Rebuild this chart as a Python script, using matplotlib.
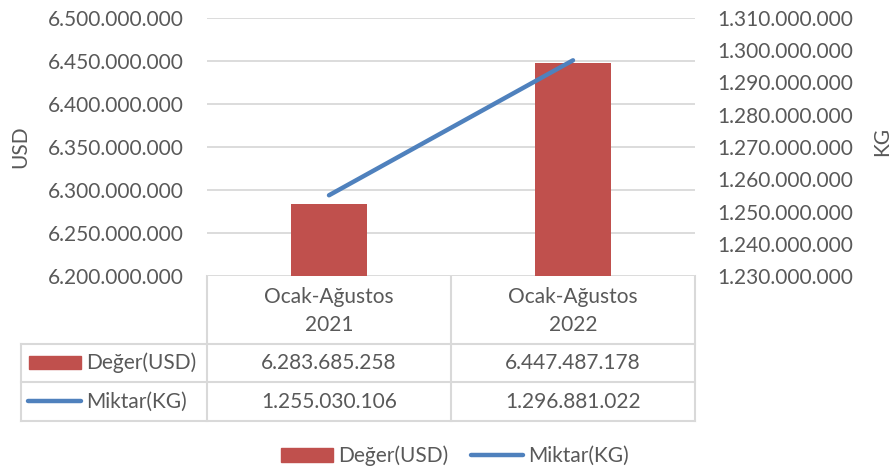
import numpy as np
import matplotlib
matplotlib.use('Agg')
import matplotlib.pyplot as plt
from matplotlib.lines import Line2D
from matplotlib.patches import Patch, Rectangle
from matplotlib.ticker import FuncFormatter

plt.rcParams['font.family'] = ['Lato', 'DejaVu Sans']

categories = ['Ocak-Ağustos\n2021', 'Ocak-Ağustos\n2022']
deger_usd = [6283685258, 6447487178]
miktar_kg = [1255030106, 1296881022]
series_names = ['Değer(USD)', 'Miktar(KG)']

RED = '#C0504D'
BLUE = '#4F81BD'
GREY = '#595959'
GRID = '#D9D9D9'
FS = 15


def dotted(v, pos=None):
    return f'{v:,.0f}'.replace(',', '.')


W, H = 893, 471
fig = plt.figure(figsize=(W / 100, H / 100), dpi=100)

# plot area in pixels
x0, x1, y_top, y_bot = 207, 695, 18, 276
ax = fig.add_axes([x0 / W, 1 - y_bot / H, (x1 - x0) / W, (y_bot - y_top) / H])
x = np.arange(len(categories))
ax.bar(x, deger_usd, width=0.31, color=RED, zorder=2)
ax.set_xlim(-0.5, 1.5)
ax.set_ylim(6.2e9, 6.5e9)
ax.set_yticks(np.arange(6.2e9, 6.5e9 + 1, 5e7))
ax.yaxis.set_major_formatter(FuncFormatter(dotted))
ax.grid(axis='y', color=GRID, lw=1.3)
ax.set_axisbelow(True)
ax.set_xticks([])
for s in ax.spines.values():
    s.set_visible(False)
ax.tick_params(axis='y', length=0, pad=17, labelsize=FS, labelcolor=GREY)
ax.set_ylabel('USD', fontsize=FS, color=GREY)
ax.yaxis.set_label_coords((30 - x0) / (x1 - x0), 0.5)

ax2 = ax.twinx()
ax2.plot(x, miktar_kg, color=BLUE, lw=3.2, solid_capstyle='round', zorder=3)
ax2.set_ylim(1.23e9, 1.31e9)
ax2.set_yticks(np.arange(1.23e9, 1.31e9 + 1, 1e7))
ax2.yaxis.set_major_formatter(FuncFormatter(dotted))
for s in ax2.spines.values():
    s.set_visible(False)
ax2.tick_params(axis='y', length=0, pad=16, labelsize=FS, labelcolor=GREY)
ax2.set_ylabel('KG', fontsize=FS, color=GREY)
ax2.yaxis.set_label_coords((872 - x0) / (x1 - x0), 0.52)

# data table below the plot
tb = fig.add_axes([0, 0, 1, 1], zorder=-1)
tb.set_xlim(0, W)
tb.set_ylim(H, 0)
tb.axis('off')
col_x = [x0, 451, x1]
row_y = [y_bot, 344, 382, 421]
for cx in col_x:
    tb.plot([cx, cx], [y_bot, row_y[-1]], color=GRID, lw=1.5)
tb.plot([21, 21], [row_y[1], row_y[-1]], color=GRID, lw=1.5)
for ry in row_y[1:]:
    tb.plot([21, x1], [ry, ry], color=GRID, lw=1.5)

centers = [(col_x[i] + col_x[i + 1]) / 2 for i in range(len(categories))]
for cx, cat, v1, v2 in zip(centers, categories, deger_usd, miktar_kg):
    tb.text(cx, (row_y[0] + row_y[1]) / 2 + 1, cat, ha='center', va='center',
            fontsize=FS, color=GREY, linespacing=1.45)
    tb.text(cx, (row_y[1] + row_y[2]) / 2, dotted(v1), ha='center', va='center',
            fontsize=FS, color=GREY)
    tb.text(cx, (row_y[2] + row_y[3]) / 2, dotted(v2), ha='center', va='center',
            fontsize=FS, color=GREY)

tb.add_patch(Rectangle((29, 356), 52, 13, color=RED))
tb.text(86, (row_y[1] + row_y[2]) / 2, series_names[0], ha='left', va='center',
        fontsize=FS, color=GREY)
tb.plot([28, 81], [401, 401], color=BLUE, lw=3.2, solid_capstyle='round')
tb.text(86, (row_y[2] + row_y[3]) / 2, series_names[1], ha='left', va='center',
        fontsize=FS, color=GREY)

# bottom legend
handles = [Patch(color=RED, label=series_names[0]),
           Line2D([], [], color=BLUE, lw=3.2, solid_capstyle='round', label=series_names[1])]
fig.legend(handles=handles, loc='center', bbox_to_anchor=(455 / W, 1 - 456 / H),
           ncol=2, frameon=False, fontsize=FS, labelcolor=GREY,
           handlelength=2.5, handleheight=0.6, handletextpad=0.25, columnspacing=1.1,
           borderpad=0.1)

fig.savefig('out.png', dpi=100)
